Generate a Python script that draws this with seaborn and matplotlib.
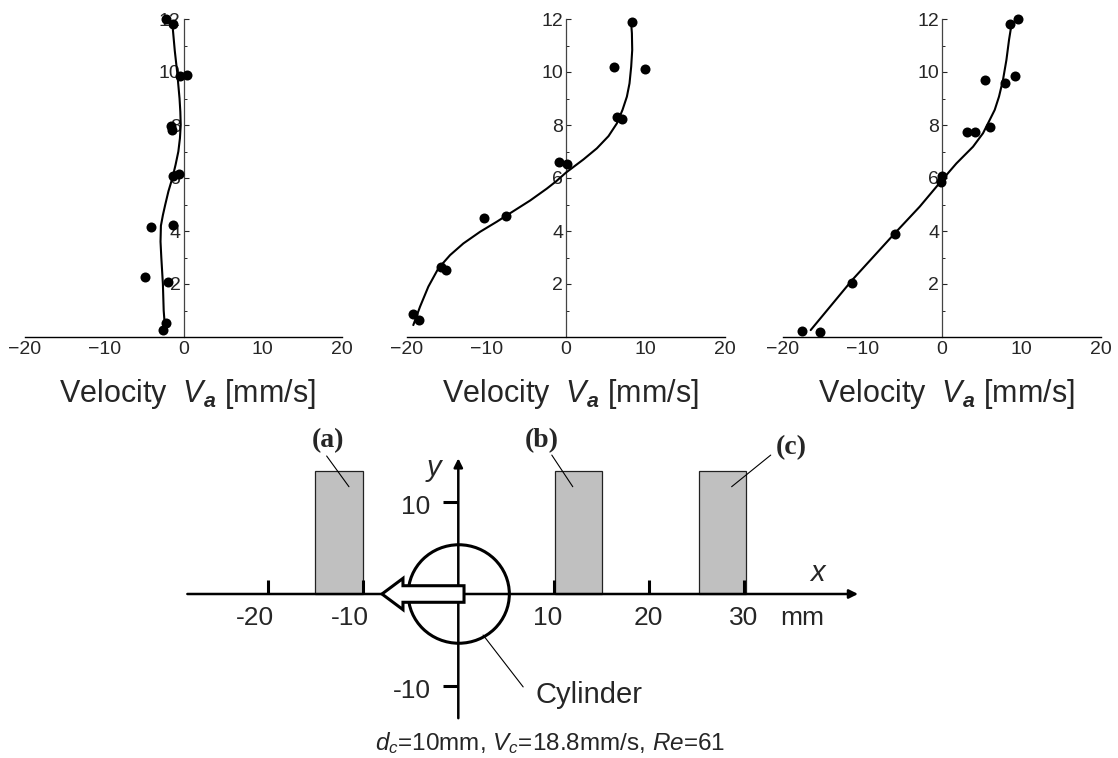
import matplotlib
matplotlib.use("Agg")
import matplotlib.pyplot as plt
import seaborn as sns
import pandas as pd
from matplotlib.patches import Rectangle, Ellipse, Polygon

# ---------------- data ----------------
a_pts_x = [-2.2, -1.3, -0.4, 0.4, -1.6, -1.5, -1.3, -0.6, -4.1, -1.3, -4.8, -1.9, -2.2, -2.6]
a_pts_y = [12.0, 11.8, 9.85, 9.9, 7.97, 7.8, 6.09, 6.15, 4.14, 4.24, 2.28, 2.09, 0.52, 0.26]
a_curve_x = [-2.4, -2.5, -2.6, -2.7, -2.8, -2.9, -2.85, -2.6, -2.3, -1.9, -1.4, -1.0, -0.65,
             -0.45, -0.35, -0.4, -0.5, -0.65, -0.8, -1.1, -1.4]
a_curve_y = [0.6, 1.0, 2.0, 2.5, 3.0, 3.6, 4.2, 4.6, 5.0, 5.5, 6.0, 6.5, 7.0,
             7.5, 8.0, 8.5, 9.0, 9.5, 10.0, 10.8, 11.8]

b_pts_x = [8.35, 6.1, 9.9, 6.4, 7.0, -0.85, 0.1, -10.3, -7.5, -15.7, -15.05, -19.25, -18.4]
b_pts_y = [11.9, 10.2, 10.1, 8.31, 8.23, 6.62, 6.53, 4.48, 4.58, 2.63, 2.53, 0.87, 0.64]
b_curve_x = [-19.17, -18.33, -17.28, -16.02, -14.55, -12.88, -10.78, -8.68, -6.59, -4.49,
             -2.39, -1.2, 0.0, 2.21, 3.90, 5.36, 6.41, 7.12, 7.67, 8.0, 8.21, 8.34, 8.30, 8.21]
b_curve_y = [0.45, 1.14, 1.90, 2.59, 3.09, 3.53, 3.97, 4.35, 4.75, 5.15,
             5.6, 5.88, 6.2, 6.7, 7.12, 7.58, 8.06, 8.57, 9.07, 9.57, 10.2, 10.83, 11.46, 11.84]

c_pts_x = [9.5, 8.55, 5.45, 7.97, 9.2, 3.2, 4.15, 6.1, 0.0, -0.15, -5.95, -11.3, -17.6, -15.4]
c_pts_y = [12.0, 11.8, 9.7, 9.57, 9.85, 7.75, 7.75, 7.94, 6.09, 5.86, 3.87, 2.05, 0.24, 0.2]
c_curve_x = [-16.52, -11.3, -5.95, -2.8, 0.0, 1.81, 3.9, 5.16, 6.0, 6.63, 7.17, 7.67, 8.1,
             8.43, 8.73]
c_curve_y = [0.26, 2.15, 3.91, 4.92, 5.92, 6.55, 7.18, 7.69, 8.19, 8.57, 9.07, 9.70, 10.45,
             11.21, 11.77]

x_ticks = [-20, -10, 0, 10, 20]
y_ticks = [2, 4, 6, 8, 10, 12]
y_minor = [1, 3, 5, 7, 9, 11]

# diagram data
probe_labels = ["(a)", "(b)", "(c)"]
probe_x0 = [-15.0, 10.1, 25.2]
probe_w = 5.0
probe_h = 13.37
diag_xticks = [-20, -10, 10, 20, 30]
diag_xtick_labels = ["-20", "-10", "10", "20", "30"]
diag_xlabel_pos = [-21.3, -11.35, 9.35, 19.9, 29.95]
diag_yticks = [10, -10]
diag_ytick_labels = ["10", "-10"]
cyl_radius = 5.3

# ---------------- style ----------------
sns.set_style("white")
plt.rcParams["font.family"] = ["Liberation Sans", "DejaVu Sans"]
plt.rcParams["mathtext.fontset"] = "custom"
plt.rcParams["mathtext.rm"] = "Liberation Sans"
plt.rcParams["mathtext.it"] = "Liberation Sans:italic"
plt.rcParams["mathtext.bf"] = "Liberation Sans:bold"
plt.rcParams["mathtext.bfit"] = "Liberation Sans:italic:bold"

W, H = 1118, 758
fig = plt.figure(figsize=(W / 100, H / 100), dpi=100)

panels = [
    (a_pts_x, a_pts_y, a_curve_x, a_curve_y, 25, 342),
    (b_pts_x, b_pts_y, b_curve_x, b_curve_y, 406.7, 725),
    (c_pts_x, c_pts_y, c_curve_x, c_curve_y, 783, 1101),
]
top_px, bot_px = 19, 337
for px, py, cx, cy, l, r in panels:
    ax = fig.add_axes([l / W, (H - bot_px) / H, (r - l) / W, (bot_px - top_px) / H])
    dfc = pd.DataFrame({"x": cx, "y": cy})
    sns.lineplot(data=dfc, x="x", y="y", sort=False, estimator=None, color="black",
                 lw=1.5, ax=ax, zorder=3)
    dfp = pd.DataFrame({"x": px, "y": py})
    sns.scatterplot(data=dfp, x="x", y="y", color="black", s=52, edgecolor="black",
                    linewidth=0, ax=ax, zorder=5, clip_on=False)
    ax.set_xlim(-20, 20)
    ax.set_ylim(0, 12)
    ax.spines["top"].set_visible(False)
    ax.spines["right"].set_visible(False)
    ax.spines["left"].set_position(("data", 0))
    ax.spines["left"].set_color("#444444")
    ax.spines["left"].set_linewidth(0.9)
    ax.spines["bottom"].set_color("black")
    ax.spines["bottom"].set_linewidth(1.0)
    ax.set_xticks(x_ticks)
    ax.set_yticks(y_ticks)
    ax.set_yticks(y_minor, minor=True)
    ax.tick_params(axis="x", direction="in", length=4, width=0.9, labelsize=14, pad=3)
    ax.tick_params(axis="y", which="major", direction="in", length=3.5, width=0.8,
                   labelsize=14, pad=2, left=True)
    ax.tick_params(axis="y", which="minor", direction="in", length=1.8, width=0.7, left=True)
    ax.set_xlabel("")
    ax.set_ylabel("")
    ax.set_facecolor("none")
    for t in ax.get_yticklabels():
        t.set_zorder(1)
    fig.text((l + r) / 2 / W + 4 / W, (H - 402) / H, r"Velocity  $V_{\mathbfit{a}}$ [mm/s]",
             ha="center", va="baseline", fontsize=22)

# ---------------- diagram ----------------
dl, dr, dt, db = 150, 900, 412, 758
ox, oy, sx, sy = 458.3, 594, 9.54, 9.2
axd = fig.add_axes([dl / W, (H - db) / H, (dr - dl) / W, (db - dt) / H])
axd.set_xlim((dl - ox) / sx, (dr - ox) / sx)
axd.set_ylim((oy - db) / sy, (oy - dt) / sy)
axd.axis("off")

for lab, x0 in zip(probe_labels, probe_x0):
    axd.add_patch(Rectangle((x0, 0), probe_w, probe_h, facecolor="#c0c0c0",
                            edgecolor="#222222", lw=0.9, zorder=2))

# axes arrows
axd.annotate("", xy=(41.9, 0), xytext=(-28.4, 0),
             arrowprops=dict(arrowstyle="-|>", lw=1.8, color="black", mutation_scale=13,
                             shrinkA=0, shrinkB=0), zorder=3)
axd.annotate("", xy=(0, 14.75), xytext=(0, -13.5),
             arrowprops=dict(arrowstyle="-|>", lw=1.8, color="black", mutation_scale=13,
                             shrinkA=0, shrinkB=0), zorder=3)

for xv, xl, lab in zip(diag_xticks, diag_xlabel_pos, diag_xtick_labels):
    axd.plot([xv, xv], [0, 1.55], color="black", lw=2.2, zorder=3, solid_capstyle="butt")
    axd.text(xl, -2.64, lab, ha="center", va="center", fontsize=19)
axd.text(36.0, -2.64, "mm", ha="center", va="center", fontsize=19)
for yv, lab, ly in zip(diag_yticks, diag_ytick_labels, [9.5, -10.5]):
    axd.plot([-1.6, 0], [yv, yv], color="black", lw=2.2, zorder=3, solid_capstyle="butt")
    axd.text(-2.9, ly, lab, ha="right", va="center", fontsize=19)

axd.text(37.6, 2.25, "x", ha="center", va="center", fontsize=21, style="italic")
axd.text(-2.6, 13.66, "y", ha="center", va="center", fontsize=21, style="italic")

# cylinder
axd.add_patch(Ellipse((0.05, 0), 2 * cyl_radius, 2 * cyl_radius * 1.01, facecolor="none",
                      edgecolor="black", lw=2.2, zorder=4))
# hollow arrow
arrow_poly = [(0.6, 0.9), (-5.8, 0.9), (-5.8, 1.7), (-8.0, 0), (-5.8, -1.7),
              (-5.8, -0.9), (0.6, -0.9)]
axd.add_patch(Polygon(arrow_poly, closed=True, facecolor="white", edgecolor="black",
                      lw=2.2, zorder=5, joinstyle="miter"))

# labels with leader lines
label_pos = [(-13.7, 16.7), (8.7, 16.7), (34.9, 15.95)]
leader = [((-13.8, 15.0), (-11.46, 11.66)), ((9.8, 15.1), (12.0, 11.66)),
          ((32.75, 15.1), (28.65, 11.66))]
for lab, (lx, ly), (p0, p1) in zip(probe_labels, label_pos, leader):
    axd.text(lx, ly, lab, ha="center", va="center", fontsize=20, fontweight="bold",
             family=["Liberation Serif", "DejaVu Serif"])
    axd.plot([p0[0], p1[0]], [p0[1], p1[1]], color="black", lw=0.8, zorder=6)

axd.plot([2.6, 6.8], [-4.46, -10.1], color="black", lw=0.8, zorder=6)
axd.text(13.7, -10.98, "Cylinder", ha="center", va="center", fontsize=21)

axd.text(9.6, -16.2, r"$d_c$=10mm, $V_c$=18.8mm/s, $Re$=61", ha="center", va="center",
         fontsize=17.5)

fig.savefig("out.png", dpi=100)
